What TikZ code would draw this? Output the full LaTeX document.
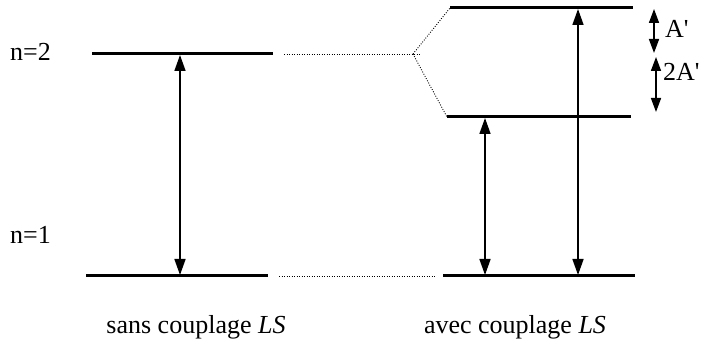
\documentclass[tikz,border=0pt]{standalone}
\usepackage{fontspec}
\newfontfamily\lsfont{Liberation Serif}
\usetikzlibrary{arrows.meta}
\tikzset{
  lvl/.style={line width=3pt},
  link/.style={dash pattern=on 0.9pt off 1.6pt, line width=0.9pt},
  trans/.style={line width=1.6pt, {Triangle[length=16pt,width=11pt]}-{Triangle[length=16pt,width=11pt]}},
  gap/.style={line width=1.6pt, {Triangle[length=14pt,width=10pt]}-{Triangle[length=14pt,width=10pt]}},
  lbl/.style={font=\lsfont\fontsize{26}{30}\selectfont, inner sep=0pt},
  >=Stealth
}
\begin{document}
\begin{tikzpicture}[x=1pt, y=-1pt]
  \useasboundingbox (0,0) rectangle (704,344);
  % levels without coupling
  \coordinate (a2w) at (92,54);
  \coordinate (a2e) at (273,54);
  \coordinate (a1w) at (86,276);
  \coordinate (a1e) at (268,276);
  % levels with coupling
  \coordinate (b3w) at (450,8);
  \coordinate (b3e) at (633,8);
  \coordinate (b2w) at (447,117);
  \coordinate (b2e) at (631,117);
  \coordinate (b1w) at (443,276);
  \coordinate (b1e) at (635,276);
  \draw[lvl] (a2w) -- (a2e);
  \draw[lvl] (a1w) -- (a1e);
  \draw[lvl] (b3w) -- (b3e);
  \draw[lvl] (b2w) -- (b2e);
  \draw[lvl] (b1w) -- (b1e);
  % correlation lines
  \coordinate (d2w) at (284,54);
  \coordinate (d2e) at (421,54);
  \coordinate (fork) at (413,54);
  \coordinate (d1w) at (279,276);
  \coordinate (d1e) at (436,276);
  \draw[link] (d2w) -- (d2e);
  \draw[link] (fork) -- (b3w);
  \draw[link] (fork) -- (b2w);
  \draw[link] (d1w) -- (d1e);
  % transitions
  \coordinate (t1u) at (180,55);
  \coordinate (t1d) at (180,275);
  \coordinate (t2u) at (485,118);
  \coordinate (t2d) at (485,275);
  \coordinate (t3u) at (578,9);
  \coordinate (t3d) at (578,275);
  \draw[trans] (t1u) -- (t1d);
  \draw[trans] (t2u) -- (t2d);
  \draw[trans] (t3u) -- (t3d);
  % splittings
  \coordinate (s1u) at (654,9);
  \coordinate (s1d) at (654,53);
  \coordinate (s2u) at (656,57);
  \coordinate (s2d) at (656,112);
  \draw[gap] (s1u) -- (s1d);
  \draw[gap] (s2u) -- (s2d);
  % labels
  \node[lbl, anchor=west] (n2) at (10,52) {n=2};
  \node[lbl, anchor=west] (n1) at (10,235) {n=1};
  \node[lbl, anchor=west] (A1) at (665,29) {A'};
  \node[lbl, anchor=west] (A2) at (663,72) {2A'};
  \node[lbl] (sans) at (196,327) {sans couplage \textit{LS}};
  \node[lbl] (avec) at (515,327) {avec couplage \textit{LS}};
\end{tikzpicture}
\end{document}
